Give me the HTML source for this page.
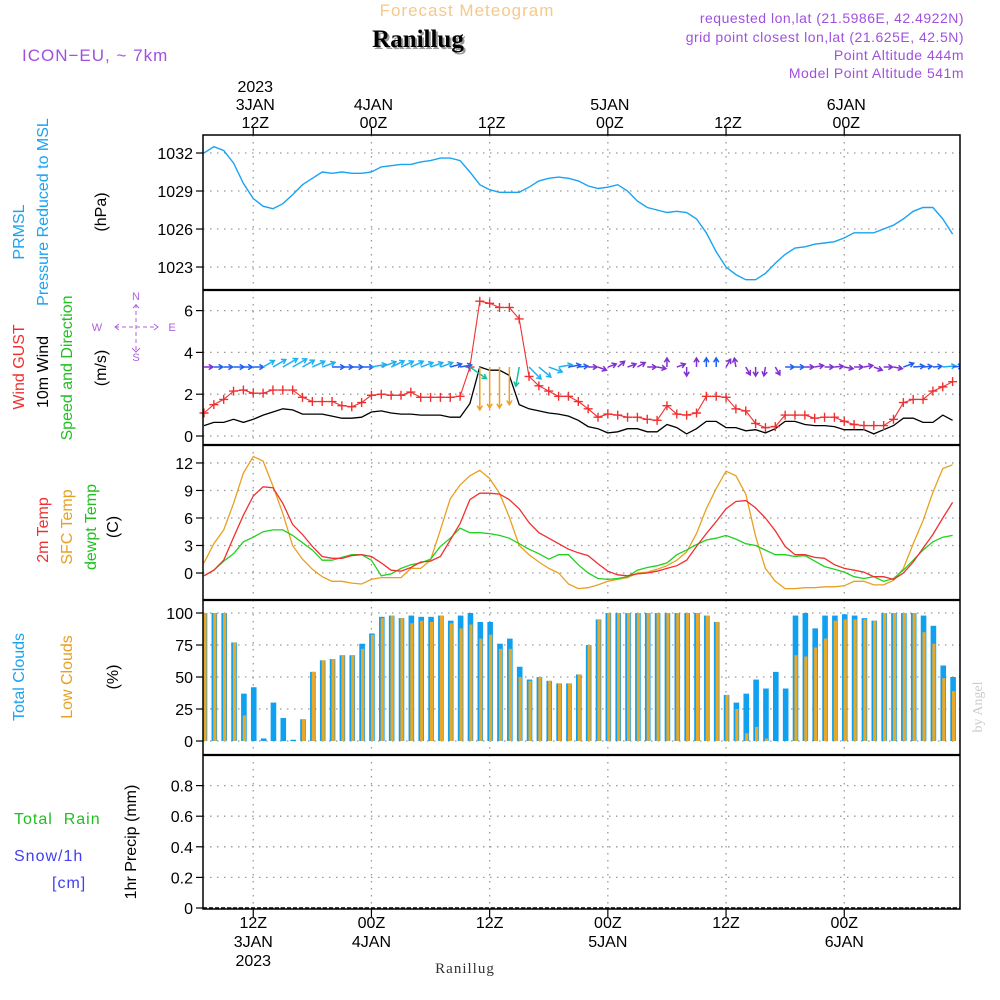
<!DOCTYPE html>
<html><head><meta charset="utf-8"><style>
html,body{margin:0;padding:0;background:#fff;width:1000px;height:1000px;overflow:hidden}
svg{display:block}
text{font-family:"Liberation Sans Narrow","Liberation Sans",sans-serif;font-size:16px}
</style></head><body>
<svg id="chart" width="1000" height="1000" viewBox="0 0 1000 1000" xmlns="http://www.w3.org/2000/svg">
<g>
<text x="467" y="16" text-anchor="middle" fill="#f5c98a" style="font-size:17px;letter-spacing:1px">Forecast Meteogram</text>
<text x="420" y="49" text-anchor="middle" fill="#999" style="font-family:'Liberation Serif',serif;font-size:25px;font-weight:bold">Ranillug</text>
<text x="418" y="47" text-anchor="middle" fill="#000" style="font-family:'Liberation Serif',serif;font-size:25px;font-weight:bold">Ranillug</text>
<text x="22" y="61" fill="#a050e0" style="font-size:17px;letter-spacing:1px">ICON−EU, ~ 7km</text>
<text x="964" y="23" text-anchor="end" fill="#a050e0" style="font-size:14px;letter-spacing:0.5px">requested lon,lat (21.5986E, 42.4922N)</text>
<text x="964" y="42" text-anchor="end" fill="#a050e0" style="font-size:14px;letter-spacing:0.5px">grid point closest lon,lat (21.625E, 42.5N)</text>
<text x="964" y="60" text-anchor="end" fill="#a050e0" style="font-size:14px;letter-spacing:0.5px">Point Altitude 444m</text>
<text x="964" y="78" text-anchor="end" fill="#a050e0" style="font-size:14px;letter-spacing:0.5px">Model Point Altitude 541m</text>
</g>
<g>
<text transform="translate(24,232) rotate(-90)" text-anchor="middle" fill="#1aa3f0">PRMSL</text>
<text transform="translate(48,212) rotate(-90)" text-anchor="middle" fill="#1aa3f0">Pressure Reduced to MSL</text>
<text transform="translate(106,212) rotate(-90)" text-anchor="middle" fill="#000">(hPa)</text>
<text transform="translate(24,367) rotate(-90)" text-anchor="middle" fill="#f03030">Wind GUST</text>
<text transform="translate(48,372) rotate(-90)" text-anchor="middle" fill="#000">10m Wind</text>
<text transform="translate(72,368) rotate(-90)" text-anchor="middle" fill="#20c020">Speed and Direction</text>
<text transform="translate(106,368) rotate(-90)" text-anchor="middle" fill="#000">(m/s)</text>
<g>
<g fill="#b060e0" style="font-size:11px">
<text x="136" y="300" text-anchor="middle" style="font-size:11px">N</text>
<text x="97" y="331" text-anchor="middle" style="font-size:11px">W</text>
<text x="172" y="331" text-anchor="middle" style="font-size:11px">E</text>
<text x="136" y="361" text-anchor="middle" style="font-size:11px">S</text>
</g>
<g stroke="#b060e0" stroke-width="1" fill="none">
<path d="M136,304v46" stroke-dasharray="4,3"/>
<path d="M115,327h43" stroke-dasharray="4,3"/>
<path d="M133,308l3,-3l3,3M132,348l4,4l4,-4"/>
<path d="M119,324l-4,3l4,3M154,324l4,3l-4,3"/>
</g>
</g>
<text transform="translate(48,530) rotate(-90)" text-anchor="middle" fill="#f03030">2m Temp</text>
<text transform="translate(72,527) rotate(-90)" text-anchor="middle" fill="#e8a020">SFC Temp</text>
<text transform="translate(96,527) rotate(-90)" text-anchor="middle" fill="#20c020">dewpt Temp</text>
<text transform="translate(118,527) rotate(-90)" text-anchor="middle" fill="#000">(C)</text>
<text transform="translate(24,677) rotate(-90)" text-anchor="middle" fill="#1aa3f0">Total Clouds</text>
<text transform="translate(72,677) rotate(-90)" text-anchor="middle" fill="#e8a020">Low Clouds</text>
<text transform="translate(118,677) rotate(-90)" text-anchor="middle" fill="#000">(%)</text>
<text x="14" y="824" fill="#20c020" style="letter-spacing:1px">Total&#160;&#160;Rain</text>
<text x="14" y="861" fill="#4040f0" style="letter-spacing:1px">Snow/1h</text>
<text x="52" y="888" fill="#4040f0" style="letter-spacing:1px">[cm]</text>
<text transform="translate(136,842) rotate(-90)" text-anchor="middle" fill="#000">1hr Precip (mm)</text>
<text transform="translate(982,707) rotate(-90)" text-anchor="middle" fill="#ccc" style="font-family:'Liberation Serif',serif;font-size:14px">by Angel</text>
<text x="465" y="973" text-anchor="middle" fill="#333" style="font-family:'Liberation Serif',serif;font-size:15px;letter-spacing:1px">Ranillug</text>
</g>
<g id="plot"></g>
</svg>
<script>
// ---- data (hourly, from 07Z 3JAN) ----
const hours = Array.from({length:77},(_,i)=>i);
const pressure = [1032.0,1032.5,1032.2,1031.2,1029.6,1028.4,1027.8,1027.6,1028.0,1028.7,1029.5,1030.0,1030.5,1030.4,1030.5,1030.4,1030.4,1030.5,1030.9,1031.0,1031.1,1031.1,1031.3,1031.4,1031.6,1031.6,1031.4,1030.5,1029.5,1029.1,1028.9,1028.9,1028.9,1029.3,1029.8,1030.0,1030.1,1030.0,1029.8,1029.4,1029.2,1029.3,1029.5,1029.0,1028.2,1027.7,1027.5,1027.3,1027.4,1027.3,1026.8,1025.7,1024.2,1023.0,1022.4,1022.0,1022.0,1022.5,1023.3,1024.0,1024.5,1024.6,1024.8,1024.9,1025.0,1025.3,1025.7,1025.7,1025.7,1026.0,1026.3,1026.8,1027.4,1027.7,1027.7,1026.8,1025.6];
const gust = [1.1,1.5,1.75,2.15,2.2,2.05,2.05,2.2,2.2,2.2,1.85,1.65,1.65,1.65,1.45,1.4,1.6,1.95,2.0,1.95,1.95,2.1,1.85,1.85,1.85,1.85,1.9,3.3,6.45,6.35,6.15,6.15,5.6,2.85,2.4,2.15,1.9,1.9,1.65,1.3,0.9,1.05,1.0,0.9,0.9,0.8,0.75,1.45,1.05,1.0,1.1,1.9,1.9,1.85,1.3,1.2,0.6,0.4,0.45,1.0,1.0,1.0,0.85,0.9,0.9,0.7,0.55,0.5,0.5,0.5,0.8,1.6,1.75,1.75,2.15,2.35,2.6];
const wind = [0.5,0.65,0.65,0.8,0.65,0.8,1.0,1.15,1.3,1.25,1.05,1.05,1.05,0.95,0.85,0.85,0.9,1.15,1.2,1.1,1.05,1.05,1.0,1.0,1.0,0.9,0.9,1.55,3.3,3.15,3.15,2.9,1.5,1.3,1.2,1.1,1.05,0.95,0.75,0.45,0.35,0.15,0.2,0.35,0.35,0.2,0.2,0.55,0.4,0.1,0.35,0.7,0.7,0.4,0.4,0.25,0.3,0.15,0.35,0.7,0.7,0.55,0.5,0.5,0.45,0.3,0.3,0.3,0.1,0.3,0.5,0.85,0.85,0.65,0.65,1.0,0.75];
const windDir = [0,0,0,0,0,0,30,30,30,30,30,25,20,0,0,0,0,10,20,25,25,25,20,20,20,15,10,-35,-90,-90,-90,-90,-100,-45,-40,-20,10,10,5,0,-20,20,40,20,30,0,-10,90,20,-90,90,90,90,60,100,-60,-90,-100,-60,0,0,0,10,0,5,-10,0,10,-20,0,-10,20,5,5,5,5,5];
const t2m = [-0.3,0.3,1.4,3.9,6.3,8.4,9.4,9.3,7.6,5.3,4.2,2.9,1.8,1.6,1.6,1.9,2.0,1.8,1.1,0.3,0.2,0.6,1.2,1.3,1.8,3.6,5.4,8.0,8.7,8.7,8.6,8.0,7.0,5.5,4.4,3.8,3.2,2.6,2.2,1.9,1.0,0.2,-0.2,-0.3,-0.1,0.0,0.2,0.5,0.8,1.4,2.9,4.3,5.6,7.0,7.8,7.9,7.1,6.0,4.6,2.9,2.0,2.0,1.7,1.6,0.9,0.5,0.3,0.1,-0.4,-0.4,-0.7,0.0,1.2,2.7,4.2,6.0,7.7];
const sfcT = [1.1,3.2,4.7,7.6,10.9,12.7,12.2,9.5,6.5,3.0,1.5,0.4,-0.4,-0.9,-0.9,-1.1,-1.2,-0.7,-0.5,-0.5,-0.5,0.5,0.5,1.4,4.7,8.1,9.6,10.6,11.2,10.3,8.7,6.1,3.0,2.0,1.2,0.5,0.0,-1.2,-1.7,-1.6,-1.3,-0.9,-0.7,-0.5,0.0,0.1,0.4,0.8,1.4,2.3,4.3,7.0,9.2,11.1,10.6,8.6,4.0,0.5,-0.9,-1.7,-1.7,-1.6,-1.6,-1.5,-1.5,-1.4,-0.9,-0.9,-1.3,-1.3,-0.8,0.5,3.2,5.7,8.8,11.4,11.8];
const dewpt = [-0.3,0.3,1.3,2.1,3.4,3.9,4.5,4.7,4.7,4.1,3.3,2.5,1.4,1.4,1.7,2.0,2.0,1.4,-0.3,-0.1,0.5,0.9,1.1,1.5,2.9,3.8,4.9,4.4,4.4,4.3,4.1,3.8,3.2,2.6,2.1,1.5,2.0,2.0,0.9,0.0,-0.6,-0.7,-0.6,-0.4,0.3,0.6,0.8,1.1,2.0,2.5,3.1,3.6,3.8,4.1,3.7,3.2,3.0,2.5,2.0,2.0,1.8,1.9,1.3,0.7,0.4,0.1,-0.4,-0.6,-0.4,-0.9,-0.6,0.3,1.4,2.5,3.4,3.9,4.1];
const totalClouds = [100,100,100,77,37,42,2,30,18,1,17,54,63,64,67,67,76,84,97,98,96,98,97,97,98,94,98,100,93,93,76,80,58,48,50,47,45,45,52,75,95,100,100,100,100,100,100,100,100,100,100,98,93,36,30,37,48,41,54,41,98,100,88,98,98,99,98,96,94,100,100,100,100,98,90,59,50];
const lowClouds = [100,100,100,77,20,0,0,0,0,0,17,54,63,64,67,67,72,83,96,98,96,92,94,93,98,92,88,91,80,83,72,72,50,47,50,47,45,45,52,75,95,100,100,100,100,100,100,100,100,100,100,98,93,36,25,6,11,2,0,0,67,66,73,80,94,95,95,95,94,100,100,100,100,85,76,49,39];
const precip = hours.map(()=>0);
const pTicks = [1023,1026,1029,1032];
const wTicks = [0,2,4,6];
const tTicks = [0,3,6,9,12];
const cTicks = [0,25,50,75,100];
const rTicks = [0,0.2,0.4,0.6,0.8];
const topLabels = [["2023","3JAN","12Z"],["","4JAN","00Z"],["","","12Z"],["","5JAN","00Z"],["","","12Z"],["","6JAN","00Z"]];
const botLabels = [["12Z","3JAN","2023"],["00Z","4JAN",""],["12Z","",""],["00Z","5JAN",""],["12Z","",""],["00Z","6JAN",""]];
const gridHours = [5,17,29,41,53,65];

// ---- axes ----
const L=203, R=960;
const xH = h => 204 + h*9.85;
const yP = p => 153 + (1032-p)*12.67;
const yW = v => 436 - v*20.9;
const yT = t => 573 - t*9.17;
const yC = c => 741 - c*1.28;
const yR = r => 908 - r*153;
const panels = [[135,290,pTicks,yP,"pressure"],[290,445,wTicks,yW,"wind"],[445,600,tTicks,yT,"temp"],[600,755,cTicks,yC,"clouds"],[755,909,rTicks,yR,"precip"]];

const NS="http://www.w3.org/2000/svg";
const plot=document.getElementById('plot');
function mk(tag,attrs,parent){const e=document.createElementNS(NS,tag);for(const k in attrs)e.setAttribute(k,attrs[k]);(parent||plot).appendChild(e);return e;}
function txt(x,y,s,anchor,fill,parent){const e=mk('text',{x:x,y:y,'text-anchor':anchor||'middle',fill:fill||'#000'},parent);e.textContent=s;return e;}

const defs=mk('defs',{});
panels.forEach((p,i)=>{const c=mk('clipPath',{id:'clip'+i},defs);mk('rect',{x:L,y:p[0],width:R-L,height:p[1]-p[0]},c);});

panels.forEach((p,i)=>{
  const g=mk('g',{});
  
  
  p[2].forEach(v=>{
    const y=p[3](v);
    mk('line',{x1:L,x2:R,y1:y,y2:y,stroke:'#999','stroke-dasharray':'1.5,5.5','stroke-width':1.3},g);
    mk('line',{x1:L-7,x2:L,y1:y,y2:y,stroke:'#000','stroke-width':1.2},g);
    const t=txt(L-10,y+6,String(v),'end','#000',g);
    
    
  });
  gridHours.forEach(h=>{
    const x=xH(h);
    mk('line',{x1:x,x2:x,y1:p[0],y2:p[1],stroke:'#999','stroke-dasharray':'1.5,5.5','stroke-width':1.3},g);
  });
});

gridHours.forEach((h,i)=>{
  const x=xH(h);
  mk('line',{x1:x,x2:x,y1:127,y2:135,stroke:'#000','stroke-width':1.2});
  mk('line',{x1:x,x2:x,y1:909,y2:917,stroke:'#000','stroke-width':1.2});
  topLabels[i].forEach((s,j)=>{ if(s){const t=txt(x+2,92+j*18,s);}});
  botLabels[i].forEach((s,j)=>{ if(s){const t=txt(x,928+j*19,s);}});
});

function linePath(arr,yf){return arr.map((v,i)=>(i?'L':'M')+xH(i).toFixed(1)+','+yf(v).toFixed(1)).join('');}
const pl=mk('path',{d:linePath(pressure,yP),fill:'none',stroke:'#1aa3f0','stroke-width':1.4,'clip-path':'url(#clip0)'});



const wl=mk('path',{d:linePath(wind,yW),fill:'none',stroke:'#000','stroke-width':1.3,'clip-path':'url(#clip1)'});


const gl=mk('path',{d:linePath(gust,yW),fill:'none',stroke:'#f03030','stroke-width':1.1,'clip-path':'url(#clip1)'});


gust.forEach((v,i)=>{
  const x=xH(i),y=yW(v);
  const m=mk('path',{d:`M${x-4.5},${y}h9M${x},${y-4.5}v9`,stroke:'#f03030','stroke-width':1.4,fill:'none'});
  
  
});
function windColor(s){return s>2.5?'#f0a020':s>1.4?'#10c0a0':s>=1.0?'#20b0f0':s>=0.6?'#2060f0':'#8030d0';}
wind.forEach((s,i)=>{
  const x=xH(i),y=yW(3.3);
  const len=Math.max(9,s*13);
  const a=windDir[i]*Math.PI/180;
  const x2=x+len*Math.cos(a),y2=y-len*Math.sin(a);
  const hl=5, c=windColor(s);
  const a1=a+Math.PI-0.55,a2=a+Math.PI+0.55;
  const d=`M${x},${y}L${x2},${y2}M${x2+hl*Math.cos(a1)},${y2-hl*Math.sin(a1)}L${x2},${y2}L${x2+hl*Math.cos(a2)},${y2-hl*Math.sin(a2)}`;
  const ar=mk('path',{d:d,stroke:c,'stroke-width':1.5,fill:'none','clip-path':'url(#clip1)'});
  
  
});

[[sfcT,'#e8a020','sfc-temp-line'],[dewpt,'#20d020','dewpt-line'],[t2m,'#f03030','t2m-line']].forEach(s=>{
  const e=mk('path',{d:linePath(s[0],yT),fill:'none',stroke:s[1],'stroke-width':1.3,'clip-path':'url(#clip2)'});
  
  
});

totalClouds.forEach((v,i)=>{
  const x=xH(i);
  const b=mk('rect',{x:x-2.3,y:yC(v),width:5.6,height:yC(0)-yC(v),fill:'#10a0f0','clip-path':'url(#clip3)'});
  
  
  const lv=lowClouds[i];
  if(lv>0){
    const o=mk('rect',{x:x-0.6,y:yC(lv),width:3.2,height:yC(0)-yC(lv),fill:'#e8a828','clip-path':'url(#clip3)'});
    
    
  }
});

precip.forEach((v,i)=>{
  if(v>0){const b=mk('rect',{x:xH(i)-2.5,y:yR(v),width:5,height:yR(0)-yR(v),fill:'#20c020'});
  
  }
});
mk('line',{x1:L,x2:R,y1:yR(0),y2:yR(0),stroke:'#000','stroke-width':1.5,'stroke-dasharray':'4,2'});

const fr=mk('g',{});


mk('rect',{x:L,y:135,width:R-L,height:774,fill:'none',stroke:'#000','stroke-width':1.5},fr);
[290,445,600,755].forEach(y=>mk('line',{x1:L,x2:R,y1:y,y2:y,stroke:'#000','stroke-width':2.2},fr));
</script>
</body></html>
